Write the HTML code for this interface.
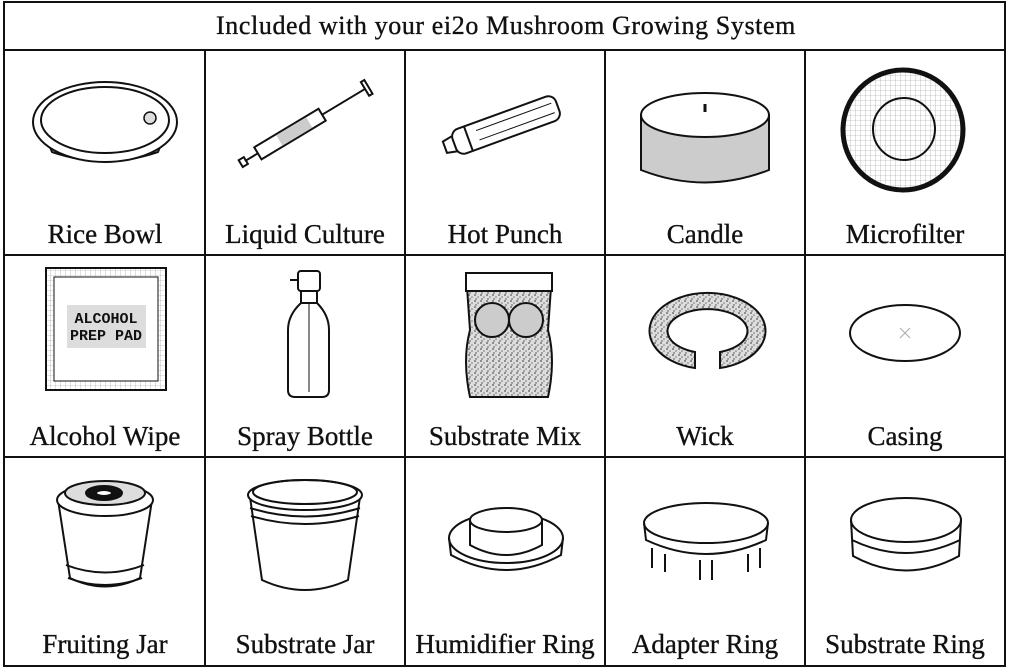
<!DOCTYPE html>
<html><head><meta charset="utf-8"><style>
html,body{margin:0;padding:0;background:#fff;width:1009px;height:671px;overflow:hidden}
svg{display:block}
text{font-family:"Liberation Serif",serif;fill:#111;stroke:#111;stroke-width:0.35}
.l{font-size:27px;text-anchor:middle}
</style></head><body>
<svg width="1009" height="671" viewBox="0 0 1009 671">
<defs>
<pattern id="grid" width="5" height="5" patternUnits="userSpaceOnUse"><path d="M5 0H0V5" fill="none" stroke="#999" stroke-width="0.6"/></pattern>
<pattern id="spk" width="6" height="6" patternUnits="userSpaceOnUse"><rect width="6" height="6" fill="#ddd"/><circle cx="1" cy="1" r="0.9" fill="#555"/><circle cx="4" cy="3" r="0.8" fill="#777"/><circle cx="2" cy="5" r="0.7" fill="#444"/></pattern>
</defs>
<g fill="none" stroke="#111" stroke-width="2">
<rect x="4" y="2" width="1001" height="664"/>
<line x1="4" y1="50" x2="1005" y2="50"/>
<line x1="4" y1="255" x2="1005" y2="255"/>
<line x1="4" y1="457" x2="1005" y2="457"/>
<line x1="205" y1="50" x2="205" y2="666"/>
<line x1="405" y1="50" x2="405" y2="666"/>
<line x1="605" y1="50" x2="605" y2="666"/>
<line x1="805" y1="50" x2="805" y2="666"/>
</g>
<text x="506" y="34" style="font-size:26px;text-anchor:middle;letter-spacing:0.6px">Included with your ei2o Mushroom Growing System</text>
<text class="l" x="105" y="243">Rice Bowl</text>
<text class="l" x="305" y="243">Liquid Culture</text>
<text class="l" x="505" y="243">Hot Punch</text>
<text class="l" x="705" y="243">Candle</text>
<text class="l" x="905" y="243">Microfilter</text>
<text class="l" x="105" y="445">Alcohol Wipe</text>
<text class="l" x="305" y="445">Spray Bottle</text>
<text class="l" x="505" y="445">Substrate Mix</text>
<text class="l" x="705" y="445">Wick</text>
<text class="l" x="905" y="445">Casing</text>
<text class="l" x="105" y="653">Fruiting Jar</text>
<text class="l" x="305" y="653">Substrate Jar</text>
<text class="l" x="505" y="653">Humidifier Ring</text>
<text class="l" x="705" y="653">Adapter Ring</text>
<text class="l" x="905" y="653">Substrate Ring</text>

<g fill="none" stroke="#111" stroke-width="2">
<path d="M45 135 L52 152 Q105 170 158 152 L165 135"/>
<ellipse cx="105" cy="122" rx="72" ry="40" fill="#fff"/>
<ellipse cx="105" cy="120" rx="64" ry="33"/>
<circle cx="150" cy="118" r="6" fill="#ddd" stroke-width="1.5"/>
<g transform="translate(305,125) rotate(-31)">
<rect x="-55" y="-7" width="75" height="14" fill="#fff"/>
<rect x="-30" y="-6" width="35" height="12" fill="#ccc" stroke="none"/>
<line x1="20" y1="0" x2="70" y2="0"/><rect x="70" y="-8" width="4" height="16"/>
<line x1="-55" y1="0" x2="-70" y2="0"/><rect x="-75" y="-4" width="6" height="8"/>
</g>
<g transform="translate(506,125) rotate(-20)">
<rect x="-55" y="-13" width="110" height="26" rx="8" fill="#fff"/>
<line x1="-40" y1="-13" x2="-40" y2="13"/>
<path d="M-55 -8 L-65 -6 L-65 6 L-55 8"/>
<line x1="-30" y1="-5" x2="50" y2="-5" stroke-width="1"/><line x1="-30" y1="5" x2="50" y2="5" stroke-width="1"/>
</g>
<path d="M641 115 L641 170 Q705 195 769 170 L769 115 Z" fill="#ccc"/>
<ellipse cx="705" cy="115" rx="64" ry="22" fill="#fff"/>
<line x1="705" y1="104" x2="705" y2="112" stroke-width="3"/>
<circle cx="903" cy="130" r="60" fill="url(#grid)" stroke-width="5"/>
<circle cx="904" cy="129" r="31"/>
<rect x="46" y="268" width="120" height="122" fill="url(#grid)"/>
<rect x="54" y="277" width="104" height="104" fill="#fff" stroke-width="1"/>
<rect x="67" y="305" width="79" height="43" fill="#ddd" stroke="none"/>
</g>
<text x="106" y="323" style="font-family:'Liberation Mono',monospace;font-size:15px;text-anchor:middle;font-weight:bold;stroke-width:0">ALCOHOL</text>
<text x="106" y="340" style="font-family:'Liberation Mono',monospace;font-size:15px;text-anchor:middle;font-weight:bold;stroke-width:0">PREP PAD</text>
<g fill="none" stroke="#111" stroke-width="2">
<rect x="298" y="271" width="22" height="20" rx="3"/>
<path d="M298 280 L290 280"/>
<rect x="301" y="291" width="16" height="12"/>
<path d="M301 303 Q288 315 288 330 L288 390 Q288 397 295 397 L322 397 Q329 397 329 390 L329 330 Q329 315 317 303"/>
<line x1="309" y1="303" x2="309" y2="392" stroke-width="1"/>
<path d="M466 273 L552 273 L548 330 Q556 360 548 397 L470 397 Q462 360 470 330 Z" fill="url(#spk)"/>
<rect x="466" y="273" width="86" height="18" fill="#fff"/>
<circle cx="492" cy="320" r="17" fill="#ccc"/><circle cx="526" cy="320" r="17" fill="#ccc"/>
<path d="M695 368 A58 38 0 1 1 720 368 L720 352 A40 22 0 1 0 695 352 Z" fill="url(#spk)"/>
<ellipse cx="905" cy="333" rx="55" ry="28"/>
<path d="M900 328 L910 338 M910 328 L900 338" stroke="#aaa" stroke-width="1"/>
<path d="M58 500 L70 578 Q105 595 140 578 L152 500" fill="#fff"/>
<path d="M66 565 Q105 580 144 565 M68 578 Q105 592 142 578"/>
<ellipse cx="105" cy="500" rx="48" ry="16" fill="#fff"/>
<ellipse cx="105" cy="493" rx="40" ry="12" fill="#ddd"/>
<ellipse cx="104" cy="493" rx="18" ry="7" fill="#111"/>
<ellipse cx="104" cy="493" rx="8" ry="3" fill="#fff"/>
<path d="M250 497 L262 580 Q305 600 348 580 L360 497"/>
<ellipse cx="305" cy="495" rx="57" ry="15" fill="#fff"/>
<ellipse cx="305" cy="492" rx="52" ry="12"/>
<path d="M250 508 Q305 525 360 508 M251 516 Q305 532 359 516"/>
<ellipse cx="506" cy="538" rx="57" ry="25"/>
<path d="M449 538 L451 555 Q506 585 561 555 L563 538"/>
<path d="M470 520 L470 545 Q506 565 542 545 L542 520"/>
<ellipse cx="506" cy="520" rx="36" ry="12" fill="#fff"/>
<ellipse cx="706" cy="523" rx="62" ry="20"/>
<path d="M644 523 L646 540 Q706 568 766 540 L768 523"/>
<path d="M652 548 L652 568 M665 554 L665 572 M700 560 L700 580 M712 560 L712 580 M748 554 L748 572 M760 548 L760 568"/>
<ellipse cx="906" cy="520" rx="55" ry="22"/>
<path d="M851 520 L853 556 Q906 585 959 556 L961 520"/>
<path d="M852 540 Q906 566 960 540"/>
</g>
</svg>
</body></html>
